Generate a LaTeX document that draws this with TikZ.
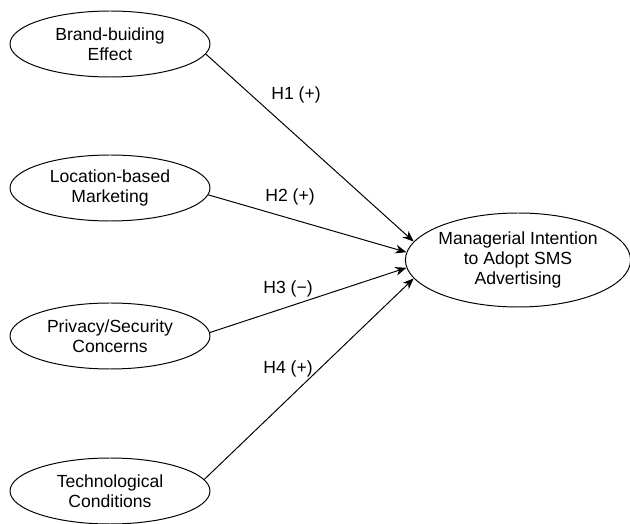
\documentclass[tikz,border=0pt]{standalone}
\usepackage{fontspec}
\setmainfont{Liberation Sans}
\usetikzlibrary{shapes.geometric, arrows.meta, positioning}

\begin{document}
\begin{tikzpicture}
[
  every node/.style={font=\fontsize{12.5}{14}\selectfont, align=center, inner sep=0pt},
  latent/.style={ellipse, draw=black, line width=0.7pt, minimum width=5cm, minimum height=1.65cm},
  outcome/.style={ellipse, draw=black, line width=0.7pt, minimum width=5.5cm, minimum height=2.35cm},
  path/.style={draw, line width=0.7pt, -{Stealth[length=2.8mm, width=2.2mm]}}
]
\useasboundingbox (0,0) rectangle (15.75,13.1);

\node[latent] (brand) at (2.75,12.0) {Brand-buiding \\ Effect};
\node[latent] (location) at (2.75,8.4) {Location-based \\ Marketing};
\node[latent] (privacy) at (2.75,4.7) {Privacy/Security \\ Concerns};
\node[latent] (tech) at (2.75,0.825) {Technological \\ Conditions};
\node[outcome] (intention) at (12.95,6.6) {Managerial Intention \\ to Adopt SMS \\ Advertising};

\node (h1) at (7.4,10.725) {H1 (+)};
\node (h2) at (7.25,8.175) {H2 (+)};
\node (h3) at (7.2,5.875) {H3 (−)};
\node (h4) at (7.2,3.875) {H4 (+)};

\draw[path] (brand.-6) -- (intention.170);
\draw[path] (location.-4) -- (intention.176);
\draw[path] (privacy.2) -- (intention.184);
\draw[path] (tech.7) -- (intention.190);
\end{tikzpicture}
\end{document}
